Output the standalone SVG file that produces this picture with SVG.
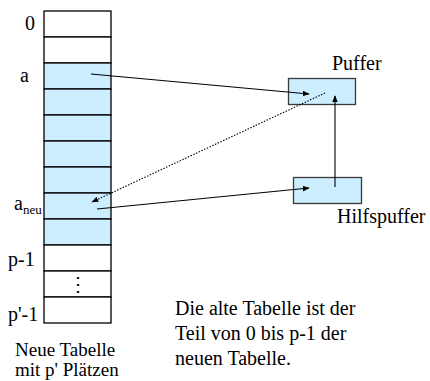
<svg xmlns="http://www.w3.org/2000/svg" width="430" height="381" viewBox="0 0 430 381">
  <style>
    .cell { stroke: #000; stroke-width: 1.3; }
    .used { fill: #cceeff; }
    .free { fill: #ffffff; }
    .buf { fill: #cceeff; stroke: #3a3a3a; stroke-width: 1.3; }
    text { font-family: 'Liberation Serif', 'Times New Roman', 'DejaVu Serif', serif; font-size: 20px; fill: #000; }
    .small { font-size: 19px; }
    .conn { stroke: #000; stroke-width: 1.1; fill: none; }
    .dot { stroke-dasharray: 1.5 1.5; }
  </style>
  <defs>
    <marker id="ah" viewBox="0 0 10 10" refX="9" refY="5" markerWidth="7" markerHeight="7" orient="auto" markerUnits="userSpaceOnUse">
      <path d="M0,1 L10,5 L0,9 z" fill="#000"/>
    </marker>
  </defs>

  <rect width="430" height="381" fill="#fff"/>

  <!-- table with p' slots -->
  <g id="table">
    <rect class="cell free" x="44" y="11" width="67" height="26"/>
    <rect class="cell free" x="44" y="37" width="67" height="26"/>
    <rect class="cell used" x="44" y="63" width="67" height="26"/>
    <rect class="cell used" x="44" y="89" width="67" height="26"/>
    <rect class="cell used" x="44" y="115" width="67" height="26"/>
    <rect class="cell used" x="44" y="141" width="67" height="26"/>
    <rect class="cell used" x="44" y="167" width="67" height="26"/>
    <rect class="cell used" x="44" y="193" width="67" height="26"/>
    <rect class="cell used" x="44" y="219" width="67" height="26"/>
    <rect class="cell free" x="44" y="245" width="67" height="26"/>
    <rect class="cell free" x="44" y="271" width="67" height="26"/>
    <rect class="cell free" x="44" y="297" width="67" height="26"/>
    <text x="77.5" y="291" text-anchor="middle" font-size="16">⋮</text>
    <text x="25" y="30">0</text>
    <text x="20" y="82">a</text>
    <text x="14" y="210">a<tspan font-size="13" dy="4">neu</tspan></text>
    <text x="8" y="266">p-1</text>
    <text x="8" y="321">p'-1</text>
    <text class="small" x="15" y="356">Neue Tabelle</text>
    <text class="small" x="15" y="376">mit p' Plätzen</text>
  </g>

  <!-- buffer -->
  <g id="puffer">
    <rect class="buf" x="288.5" y="78.5" width="67" height="26"/>
    <text x="332" y="70">Puffer</text>
  </g>

  <!-- auxiliary buffer -->
  <g id="hilfspuffer">
    <rect class="buf" x="293.5" y="177.5" width="68" height="26"/>
    <text x="337" y="223">Hilfspuffer</text>
  </g>

  <!-- caption -->
  <g id="note">
    <text x="175" y="315">Die alte Tabelle ist der</text>
    <text x="175" y="340">Teil von 0 bis p-1 der</text>
    <text x="175" y="365">neuen Tabelle.</text>
  </g>

  <g id="connectors">
    <line class="conn" x1="91" y1="74" x2="309" y2="94" marker-end="url(#ah)"/>
    <line class="conn" x1="335" y1="187" x2="335" y2="96" marker-end="url(#ah)"/>
    <line class="conn" x1="97" y1="209" x2="309" y2="188" marker-end="url(#ah)"/>
    <line class="conn dot" x1="325" y1="93" x2="92" y2="202" marker-end="url(#ah)"/>
  </g>
</svg>
